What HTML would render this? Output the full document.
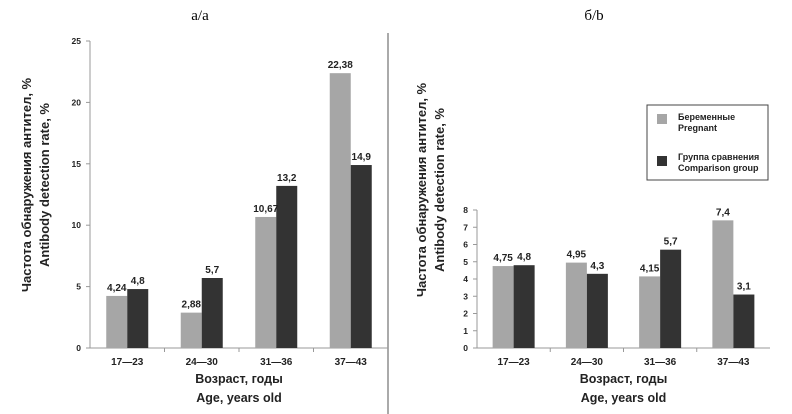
<!DOCTYPE html>
<html><head><meta charset="utf-8"><style>
html,body{margin:0;padding:0;background:#fff;}
svg{display:block;font-family:"Liberation Sans","DejaVu Sans",sans-serif;}
</style></head><body>
<svg id="c" width="792" height="414" viewBox="0 0 792 414">
<text x="200" y="20" font-family="Liberation Serif, serif" font-size="15" text-anchor="middle">а/a</text>
<text x="594" y="20" font-family="Liberation Serif, serif" font-size="15" text-anchor="middle">б/b</text>
<line x1="388" y1="33" x2="388" y2="414" stroke="#aaa" stroke-width="2"/>
<g id="pa"></g>
<g id="pb"></g>
<g>
<rect x="647" y="105" width="121" height="75" fill="#fff" stroke="#444" stroke-width="1"/>
<rect x="657" y="114" width="10" height="10" fill="#a6a6a6"/>
<text x="678" y="120" font-size="9" font-weight="bold" fill="#222">Беременные</text>
<text x="678" y="131" font-size="9" font-weight="bold" fill="#222">Pregnant</text>
<rect x="657" y="156" width="10" height="10" fill="#333"/>
<text x="678" y="160" font-size="9" font-weight="bold" fill="#222">Группа сравнения</text>
<text x="678" y="171" font-size="9" font-weight="bold" fill="#222">Comparison group</text>
</g>
</svg>
<script>
const categories=["17—23","24—30","31—36","37—43"];
const pregnantA=[4.24,2.88,10.67,22.38];
const comparisonA=[4.8,5.7,13.2,14.9];
const labelsPregA=["4,24","2,88","10,67","22,38"];
const labelsCompA=["4,8","5,7","13,2","14,9"];
const ticksA=[0,5,10,15,20,25];
const pregnantB=[4.75,4.95,4.15,7.4];
const comparisonB=[4.8,4.3,5.7,3.1];
const labelsPregB=["4,75","4,95","4,15","7,4"];
const labelsCompB=["4,8","4,3","5,7","3,1"];
const ticksB=[0,1,2,3,4,5,6,7,8];
const NS="http://www.w3.org/2000/svg";
function mk(parent,tag,attrs,text){const e=document.createElementNS(NS,tag);for(const k in attrs)e.setAttribute(k,attrs[k]);if(text!==undefined)e.textContent=text;parent.appendChild(e);return e;}
function panel(g,cfg,preg,comp,lp,lc,ticks){
 const y=v=>cfg.y0-(v/cfg.max)*(cfg.y0-cfg.yTop);
 const step=(cfg.x1-cfg.x0)/categories.length;
 const x=i=>cfg.x0+step*(i+0.5);
 const ax=mk(g,'line',{x1:cfg.x0,y1:cfg.yTop,x2:cfg.x0,y2:cfg.y0,stroke:'#999'});
 
 
 const bx=mk(g,'line',{x1:cfg.x0-4,y1:cfg.y0,x2:cfg.x1,y2:cfg.y0,stroke:'#999'});
 
 
 ticks.forEach(t=>{
  mk(g,'line',{x1:cfg.x0-4,y1:y(t),x2:cfg.x0,y2:y(t),stroke:'#999'});
  const tl=mk(g,'text',{x:cfg.x0-9,y:y(t)+3,'font-size':8.5,'font-weight':'bold','text-anchor':'end',fill:'#222'},String(t));
  
  
 });
 for(let i=1;i<categories.length;i++) mk(g,'line',{x1:cfg.x0+step*i,y1:cfg.y0,x2:cfg.x0+step*i,y2:cfg.y0+4,stroke:'#999'});
 categories.forEach((c,i)=>{
  const cx=x(i);
  const b1=mk(g,'rect',{x:cx-21,y:y(preg[i]),width:21,height:cfg.y0-y(preg[i]),fill:'#a6a6a6'});
  
  
  const b2=mk(g,'rect',{x:cx,y:y(comp[i]),width:21,height:cfg.y0-y(comp[i]),fill:'#333'});
  
  
  const v1=mk(g,'text',{x:cx-10.5,y:y(preg[i])-5,'font-size':10,'font-weight':'bold','text-anchor':'middle',fill:'#222'},lp[i]);
  
  
  const v2=mk(g,'text',{x:cx+10.5,y:y(comp[i])-5,'font-size':10,'font-weight':'bold','text-anchor':'middle',fill:'#222'},lc[i]);
  
  
  const cl=mk(g,'text',{x:cx,y:cfg.y0+17,'font-size':10,'font-weight':'bold','text-anchor':'middle',fill:'#222'},c);
  
  
 });
 const mid=(cfg.x0+cfg.x1)/2;
 const t1=mk(g,'text',{x:mid,y:cfg.y0+35,'font-size':12.5,'font-weight':'bold','text-anchor':'middle',fill:'#222'},'Возраст, годы');
 
 
 const t2=mk(g,'text',{x:mid,y:cfg.y0+54,'font-size':12.5,'font-weight':'bold','text-anchor':'middle',fill:'#222'},'Age, years old');
 
 
 const yt=mk(g,'text',{transform:`translate(${cfg.tx},${cfg.ty}) rotate(-90)`,'font-size':13,'font-weight':'bold','text-anchor':'middle',fill:'#222'},'Частота обнаружения антител, %');
 
 
 const yt2=mk(g,'text',{transform:`translate(${cfg.tx+18},${cfg.ty}) rotate(-90)`,'font-size':13,'font-weight':'bold','text-anchor':'middle',fill:'#222'},'Antibody detection rate, %');
 
 
}
panel(document.getElementById('pa'),{x0:90,x1:388,y0:348,yTop:41,max:25,tx:31,ty:185},pregnantA,comparisonA,labelsPregA,labelsCompA,ticksA);
panel(document.getElementById('pb'),{x0:477,x1:770,y0:348,yTop:210,max:8,tx:426,ty:190},pregnantB,comparisonB,labelsPregB,labelsCompB,ticksB);
</script>
</body></html>
